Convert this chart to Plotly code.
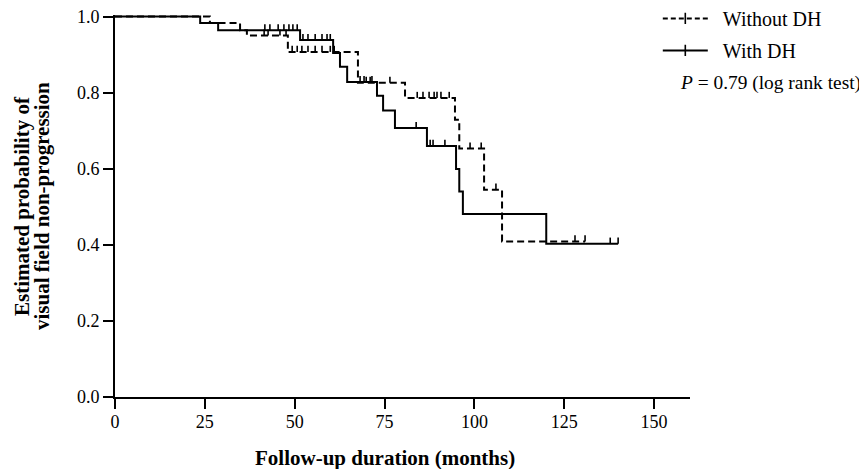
import plotly.graph_objects as go

# ---- data (months, survival probability) ----
without_t = [0, 26.4, 34.8, 36.7, 48.1, 67.6, 80.7, 94.6, 95.8, 102.7, 107.7]
without_s = [1.0, 0.983, 0.964, 0.950, 0.907, 0.826, 0.786, 0.729, 0.653, 0.545, 0.409]
without_end = 130.8
without_cens = [41.5, 42.6, 45.9, 47.6, 49.3, 50.7, 52.0, 53.7, 55.7, 57.6, 59.9, 61.0,
                69.9, 71.0, 76.5, 84.1, 85.7, 87.4, 88.8, 89.6, 90.7, 93.0, 98.8, 101.9,
                106.0, 128.0, 130.8]

with_t = [0, 23.7, 28.7, 51.5, 60.7, 62.6, 64.6, 72.9, 74.6, 77.9, 86.8, 94.9, 95.8, 96.8, 120.0]
with_s = [1.0, 0.983, 0.964, 0.938, 0.904, 0.868, 0.828, 0.792, 0.753, 0.707, 0.660, 0.599,
          0.540, 0.481, 0.403]
with_end = 140.0
with_cens = [41.7, 43.1, 45.4, 47.0, 48.4, 49.5, 50.7, 52.3, 53.7, 55.7, 57.6, 59.0, 59.9,
             68.2, 69.3, 71.5, 83.8, 87.7, 88.5, 91.8, 137.8, 140.0]

x_ticks = [0, 25, 50, 75, 100, 125, 150]
y_ticks = [0.0, 0.2, 0.4, 0.6, 0.8, 1.0]
y_ticklabels = ["0.0", "0.2", "0.4", "0.6", "0.8", "1.0"]

FONT = "Liberation Serif"
TICK_H = 0.016
PAD = "\u00a0\u00a0"


def surv_at(ts, ss, c):
    val = ss[0]
    for t, s in zip(ts, ss):
        if t <= c:
            val = s
    return val


def censor_segments(ts, ss, cens):
    xs, ys = [], []
    for c in cens:
        s = surv_at(ts, ss, c)
        xs += [c, c, None]
        ys += [s, s + TICK_H, None]
    return xs, ys


fig = go.Figure()

for ts, ss, end, cens, dash in [
    (without_t, without_s, without_end, without_cens, "7px,4px"),
    (with_t, with_s, with_end, with_cens, "solid"),
]:
    fig.add_trace(go.Scatter(
        x=ts + [end], y=ss + [ss[-1]], mode="lines", line_shape="hv",
        line=dict(color="black", width=2, dash=dash), showlegend=False,
        hoverinfo="skip"))
    cx, cy = censor_segments(ts, ss, cens)
    fig.add_trace(go.Scatter(
        x=cx, y=cy, mode="lines", line=dict(color="black", width=1.6),
        showlegend=False, hoverinfo="skip"))

# legend entries
fig.add_trace(go.Scatter(
    x=[None], y=[None], mode="lines+markers", name=PAD + "Without DH", legendgroup="a",
    line=dict(color="black", width=2, dash="5px,3px"),
    marker=dict(symbol="line-ns-open", size=8, line=dict(color="black", width=1.6))))
fig.add_trace(go.Scatter(
    x=[None], y=[None], mode="lines+markers", name=PAD + "With DH", legendgroup="b",
    line=dict(color="black", width=2),
    marker=dict(symbol="line-ns-open", size=8, line=dict(color="black", width=1.6))))

axis_common = dict(
    showline=True, linecolor="black", linewidth=2, ticks="outside", ticklen=10,
    tickwidth=2, tickcolor="black", showgrid=False, zeroline=False, automargin=False,
    ticklabeloverflow="allow",
    tickfont=dict(family=FONT, size=18, color="black"),
)

# the page body adds an 8px offset, so the figure is sized to fit the window
fig.update_layout(
    width=859, height=461,
    margin=dict(l=107, r=177, t=7, b=72, autoexpand=False),
    paper_bgcolor="white", plot_bgcolor="white",
    font=dict(family=FONT, color="black"),
    xaxis=dict(range=[0, 160], tickvals=x_ticks, ticklabelstandoff=-3, **axis_common),
    yaxis=dict(range=[0, 1.004], tickvals=y_ticks, ticktext=y_ticklabels, **axis_common),
    legend=dict(x=0.944, y=1.042, xanchor="left", yanchor="top", itemwidth=45,
                font=dict(family=FONT, size=20, color="black"),
                bgcolor="rgba(0,0,0,0)", tracegroupgap=3, traceorder="grouped"),
    annotations=[
        dict(text="<i>P</i> = 0.79 (log rank test)", xref="paper", yref="paper",
             x=1.301, y=0.822, xanchor="right", yanchor="middle", showarrow=False,
             font=dict(family=FONT, size=19.4, color="black")),
        dict(text="<b>Follow-up duration (months)</b>", xref="x", yref="paper",
             x=75, y=-0.160, xanchor="center", yanchor="middle", showarrow=False,
             font=dict(family=FONT, size=21, color="black")),
        dict(text="<b>Estimated probability of</b>",
             xref="paper", yref="paper", x=-0.1617, y=0.5, xanchor="center",
             yanchor="middle", textangle=-90, showarrow=False,
             font=dict(family=FONT, size=21, color="black")),
        dict(text="<b>visual field non-progression</b>",
             xref="paper", yref="paper", x=-0.127, y=0.5, xanchor="center",
             yanchor="middle", textangle=-90, showarrow=False,
             font=dict(family=FONT, size=21, color="black")),
    ],
)

fig.write_html("out.html")
